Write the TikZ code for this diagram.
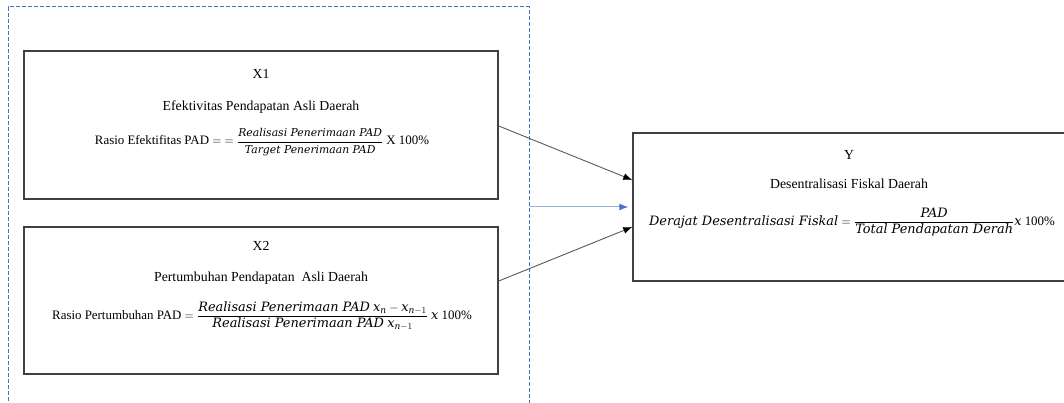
\documentclass[tikz,border=0pt]{standalone}
\usepackage{fontspec}
\setmainfont{Liberation Serif}
\newfontfamily\rumusfont{DejaVu Serif}
\usepackage{amsmath}
\usepackage{xcolor}
\usetikzlibrary{
    arrows.meta,
    calc,
    positioning
}
\definecolor{frameblue}{HTML}{4472C4}
\newcommand{\kata}[1]{\text{\rumusfont\itshape #1}}
\newcommand{\katakecil}[1]{\text{\fontsize{10.8}{12}\rumusfont\itshape #1}}

\begin{document}
\begin{tikzpicture}[x=1pt, y=-1pt,
        box/.style={draw=black!75, line width=1.5pt, inner sep=0pt},
        label/.style={font=\fontsize{13.8}{16}\selectfont, inner sep=0pt},
        rumus/.style={font=\fontsize{12.9}{15}\selectfont, inner sep=0pt},
        link/.style={draw=black!65, line width=0.9pt, -{Latex[length=9pt,width=7pt,black]}},
        hint/.style={draw=frameblue!55, line width=1pt, -{Latex[length=9pt,width=7pt,frameblue]}}]
                                \useasboundingbox (0, 0) rectangle (1064, 403);
                                \clip (0, 0) rectangle (1064, 403);
                                % dashed panel round the two variables
                                \node[draw=frameblue, line width=1pt, dash pattern=on 4pt off 2pt,
                                    minimum width=521pt, minimum height=440pt, inner sep=0pt]
                                    (panel) at (268.5, 227) {};
                                \node[box, minimum width=474pt, minimum height=148pt] (x1box) at (261, 125) {};
                                \node[box, minimum width=474pt, minimum height=147pt] (x2box) at (261, 300.5) {};
                                \node[box, minimum width=433pt, minimum height=148pt] (ybox) at (849.5, 207) {};
                                % X1
                                \node[label] (x1name) at (261, 74) {X1};
                                \node[label] (x1title) at (261, 107) {Efektivitas Pendapatan Asli Daerah};
                                \node[rumus] (x1rumus) at (262, 142)
                                    {Rasio Efektifitas PAD $=\ = \dfrac{\katakecil{Realisasi Penerimaan PAD}}{\katakecil{Target Penerimaan PAD}}$ X 100\%};
                                % X2
                                \node[label] (x2name) at (261, 246) {X2};
                                \node[label] (x2title) at (261, 278) {Pertumbuhan Pendapatan\ \ Asli Daerah};
                                \node[rumus] (x2rumus) at (262, 316)
                                    {Rasio Pertumbuhan PAD $= \dfrac{\kata{Realisasi Penerimaan PAD}\ \kata{x}_{\kata{n}} - \kata{x}_{\kata{n}-1}}{\kata{Realisasi Penerimaan PAD}\ \kata{x}_{\kata{n}-1}}\ \kata{x}$ 100\%};
                                % Y
                                \node[label] (yname) at (849, 155) {Y};
                                \node[label] (ytitle) at (849, 184) {Desentralisasi Fiskal Daerah};
                                \node[rumus] (yrumus) at (852, 222)
                                    {$\kata{Derajat Desentralisasi Fiskal} = \dfrac{\kata{PAD}}{\kata{Total Pendapatan Derah}}\kata{x}$ 100\%};
                                % connectors
                                \draw[link] ([yshift=-1]x1box.east) -- ([yshift=27]ybox.west);
                                \draw[link] ([yshift=19.5]x2box.east) -- ([yshift=-20]ybox.west);
                                \draw[hint] (panel.east |- ybox.west) -- ([xshift=-4]ybox.west);
                            \end{tikzpicture}
\end{document}
